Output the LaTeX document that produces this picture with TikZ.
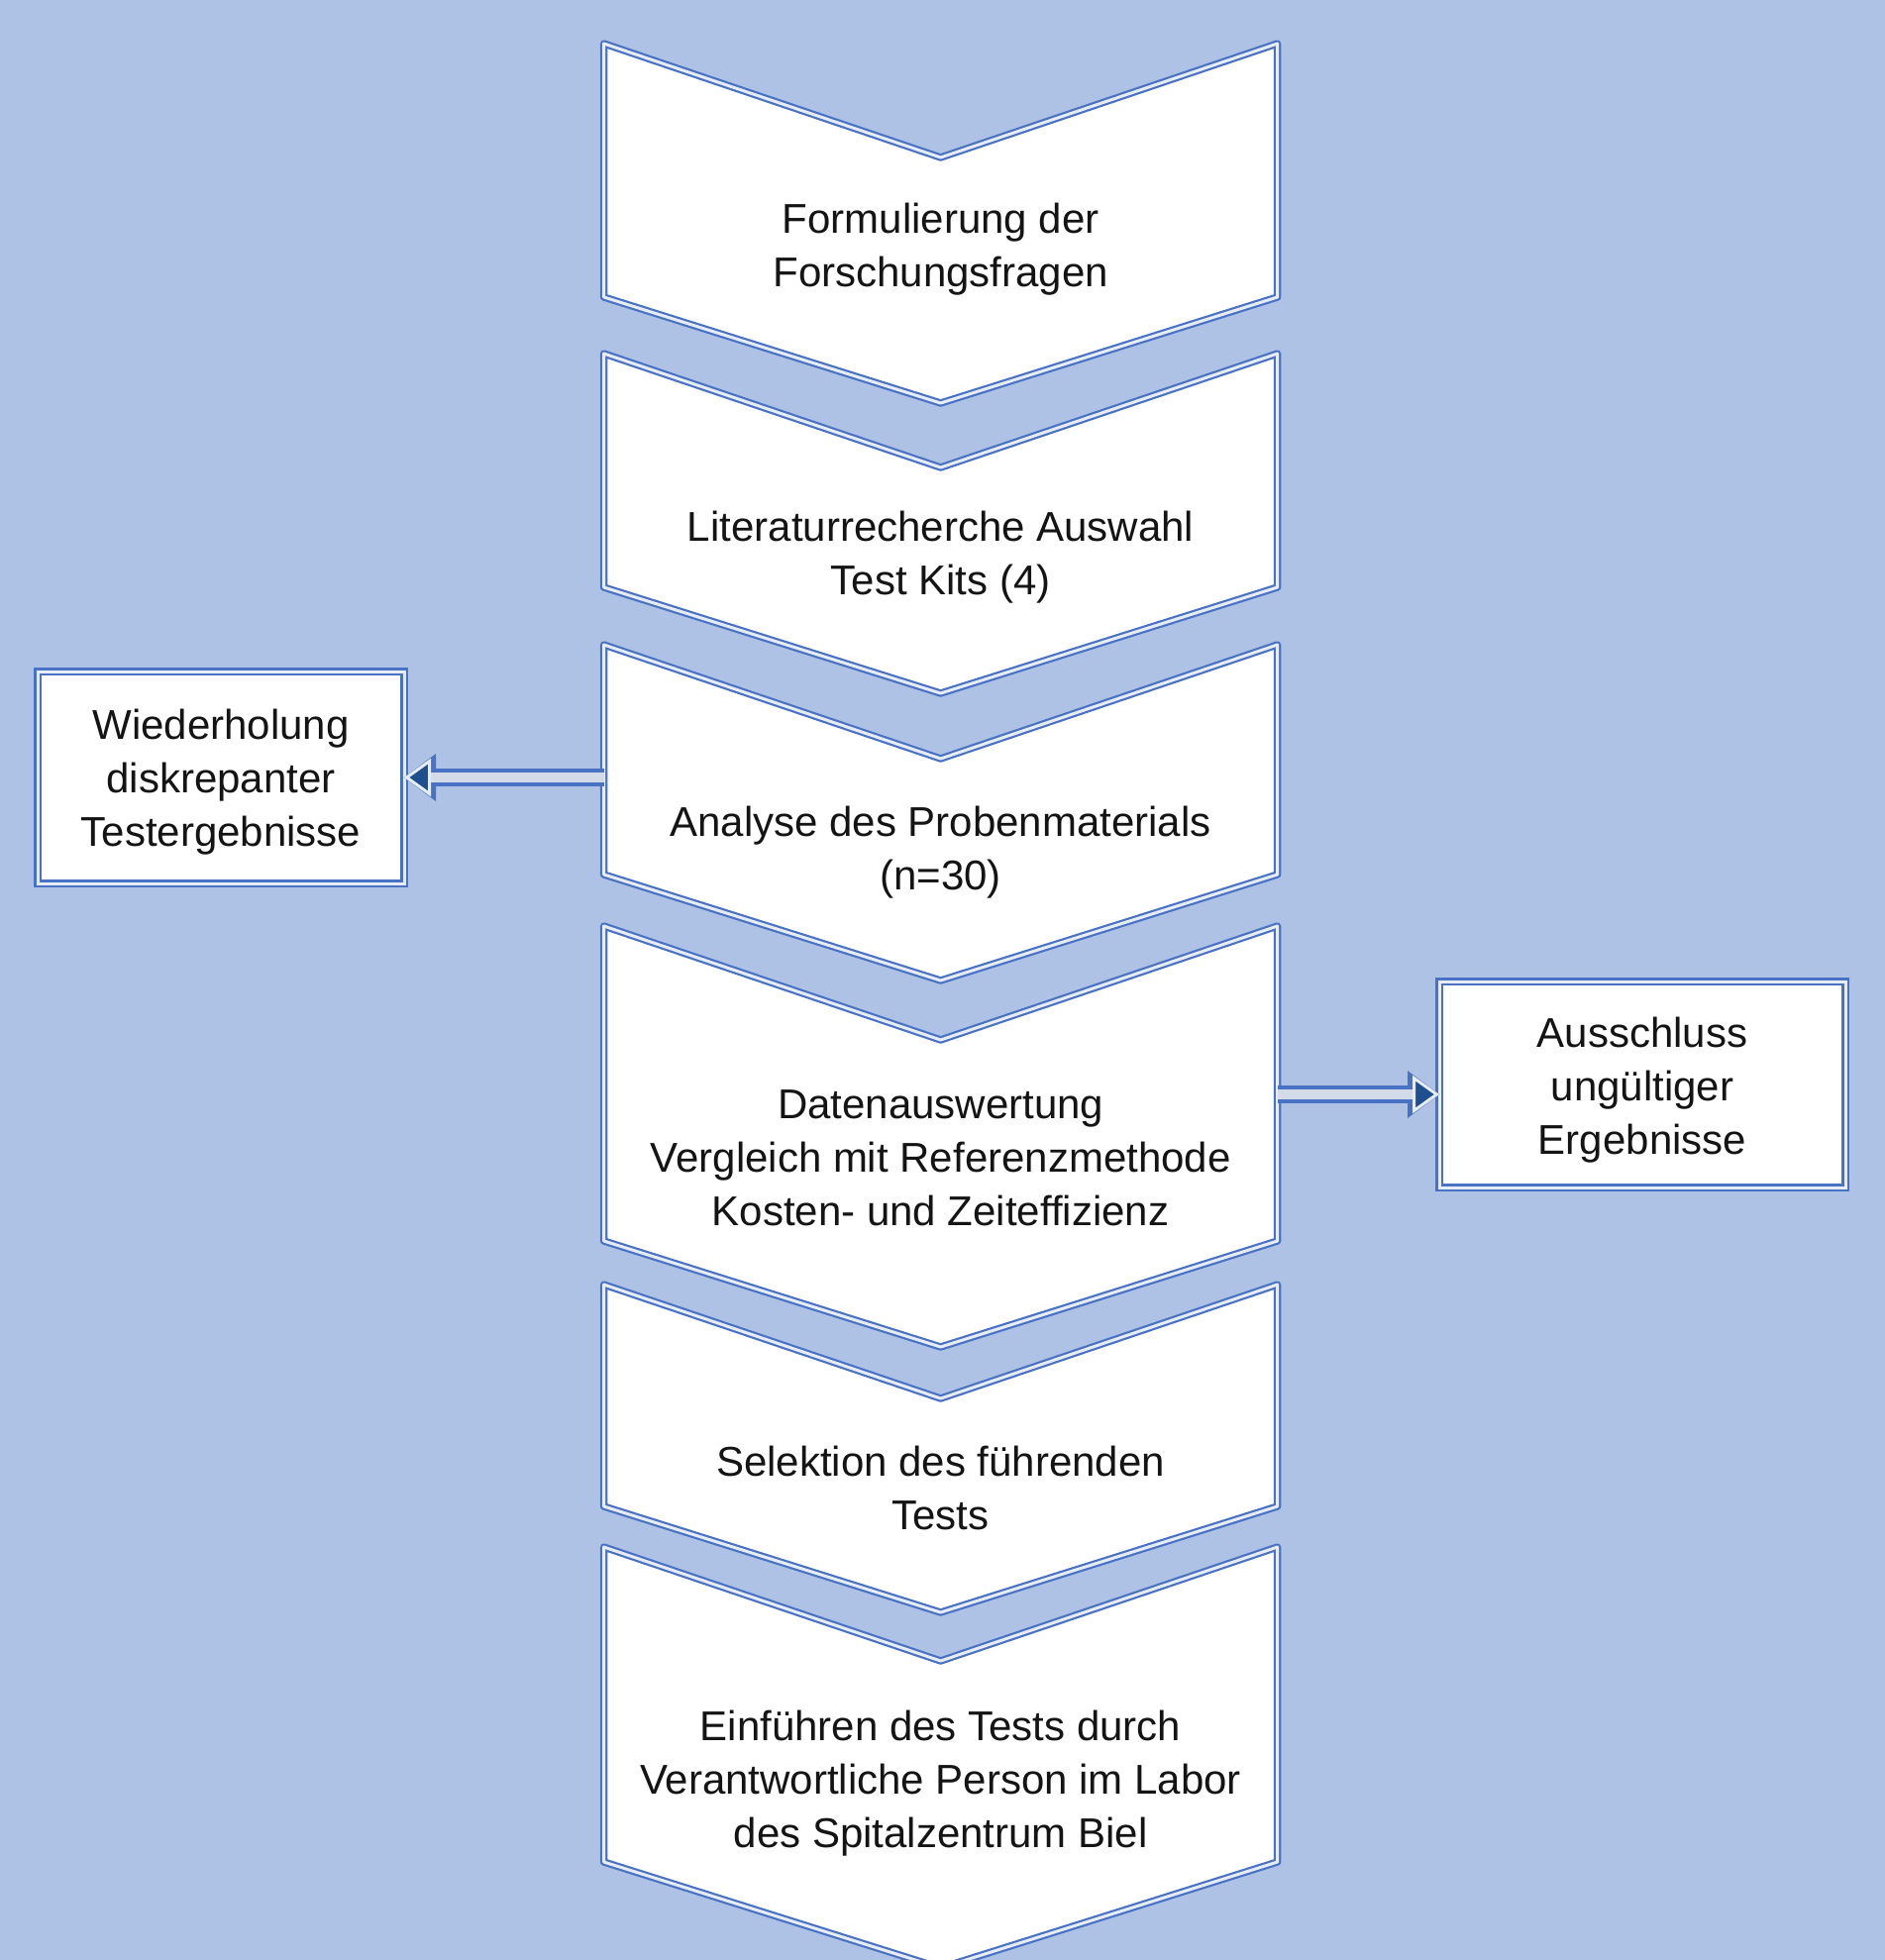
\documentclass[tikz,border=0pt]{standalone}
\usepackage{fontspec}
\setmainfont{Liberation Sans}
\usetikzlibrary{arrows.meta,calc}
\definecolor{bg}{HTML}{ADC2E5}
\definecolor{edge}{HTML}{4A72C4}
\definecolor{edgein}{HTML}{E6ECF6}
\definecolor{connmid}{HTML}{D3DBE8}
\definecolor{tipblue}{HTML}{1F4F8F}
\definecolor{txt}{HTML}{141414}
\tikzset{
 region/.style={rectangle, minimum width=680pt, inner sep=0pt, outer sep=0pt},
 chevline/.style={draw=edge, line width=2.2pt, double=edgein, double distance=3pt, fill=white, line join=round},
 lbl/.style={font=\fontsize{42}{54}\selectfont, text=txt, align=center, inner sep=0pt},
 sidebox/.style={rectangle, draw=edge, line width=2.2pt, double=edgein, double distance=3pt, fill=white, inner sep=0pt, outer sep=0pt},
 connout/.style={draw=edge, line width=18pt, -{Triangle[length=32pt,width=48pt,fill=edge,color=edge,line width=0pt]}},
 connin/.style={draw=connmid, line width=10pt, -{Triangle[length=27pt,width=38pt,fill=tipblue,color=edgein,line width=3pt]}}
}
\begin{document}
\begin{tikzpicture}[x=1pt,y=-1pt]
\useasboundingbox (0,0) rectangle (1903,1979);
\clip (0,0) rectangle (1903,1979);
\fill[bg] (0,0) rectangle (1903,1979);

% chevron regions (straight side part)
\node[region, minimum height=256pt] (c1) at (949.6,172) {};
\node[region, minimum height=236pt] (c2) at (949.6,475) {};
\node[region, minimum height=232pt] (c3) at (949.6,767) {};
\node[region, minimum height=318pt] (c4) at (949.6,1094) {};
\node[region, minimum height=224pt] (c5) at (949.6,1409) {};
\node[region, minimum height=318pt] (c6) at (949.6,1721) {};

\foreach \i in {1,...,6}{
  \path[chevline] (c\i.north west) -- ([yshift=-115pt]c\i.north) -- (c\i.north east)
    -- (c\i.south east) -- ([yshift=-107pt]c\i.south) -- (c\i.south west) -- cycle;
}

\node[lbl] (t1) at (949.6,252) {Formulierung der\\Forschungsfragen};
\node[lbl] (t2) at (949.6,563) {Literaturrecherche Auswahl\\Test Kits (4)};
\node[lbl] (t3) at (949.6,861) {Analyse des Probenmaterials\\(n=30)};
\node[lbl] (t4) at (949.6,1169) {Datenauswertung\\Vergleich mit Referenzmethode\\Kosten- und Zeiteffizienz};
\node[lbl] (t5) at (949.6,1502) {Selektion des führenden\\Tests};
\node[lbl] (t6) at (949.6,1801) {Einführen des Tests durch\\Verantwortliche Person im Labor\\des Spitalzentrum Biel};

\node[sidebox, minimum width=370pt, minimum height=214pt] (w) at (223,785) {};
\node[lbl] (wt) at (223,790) {Wiederholung\\diskrepanter\\Testergebnisse};
\node[sidebox, minimum width=410pt, minimum height=208pt] (a) at (1658,1095) {};
\node[lbl] (at) at (1658,1101) {Ausschluss\\ungültiger\\Ergebnisse};
\coordinate (ain) at ([yshift=-10pt]a.west);

\draw[connout] (c3.west |- w.east) -- (w.east);
\draw[connin] (c3.west |- w.east) -- (w.east);
\draw[connout] (c4.east |- ain) -- (ain);
\draw[connin] (c4.east |- ain) -- (ain);
\end{tikzpicture}
\end{document}
